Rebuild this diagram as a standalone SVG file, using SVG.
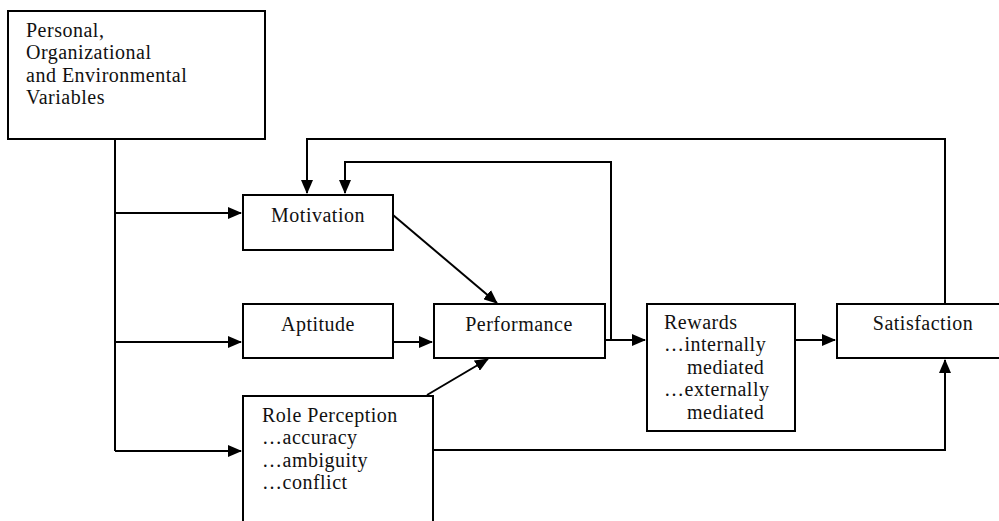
<svg xmlns="http://www.w3.org/2000/svg" width="999" height="521" viewBox="0 0 999 521">
<defs>
<marker id="ah" markerWidth="14" markerHeight="12" refX="13" refY="6" orient="auto" markerUnits="userSpaceOnUse">
<path d="M0,0 L14,6 L0,12 Z" fill="#000"/>
</marker>
<style>
.box{fill:#fff;stroke:#000;stroke-width:2}
.t{font-family:'Liberation Serif','DejaVu Serif','Times New Roman',serif;font-size:20px;letter-spacing:0.5px;fill:#111}
.c{text-anchor:middle}
.ln{fill:none;stroke:#000;stroke-width:2}
</style>
</defs>
<rect width="999" height="521" fill="#fff"/>
<g id="connectors">
<path class="ln" d="M115,140 V451"/>
<path class="ln" d="M115,213 H241" marker-end="url(#ah)"/>
<path class="ln" d="M115,342 H241" marker-end="url(#ah)"/>
<path class="ln" d="M115,451 H241" marker-end="url(#ah)"/>
<path class="ln" d="M393,342 H432" marker-end="url(#ah)"/>
<path class="ln" d="M393,215 L497,303" marker-end="url(#ah)"/>
<path class="ln" d="M427,395 L488,359" marker-end="url(#ah)"/>
<path class="ln" d="M605,340 H645" marker-end="url(#ah)"/>
<path class="ln" d="M611,340 V162 H345 V193" marker-end="url(#ah)"/>
<path class="ln" d="M945,303 V139 H307 V193" marker-end="url(#ah)"/>
<path class="ln" d="M795,340 H835" marker-end="url(#ah)"/>
<path class="ln" d="M433,450 H945 V360" marker-end="url(#ah)"/>
</g>
<g id="variables" class="t">
<rect class="box" x="8" y="11" width="257" height="128"/>
<text x="26" y="37">Personal,</text>
<text x="26" y="59.3">Organizational</text>
<text x="26" y="81.6">and Environmental</text>
<text x="26" y="103.9">Variables</text>
</g>
<g id="motivation" class="t">
<rect class="box" x="243" y="195" width="150" height="55"/>
<text class="c" x="318" y="222">Motivation</text>
</g>
<g id="aptitude" class="t">
<rect class="box" x="243" y="304" width="150" height="54"/>
<text class="c" x="318" y="331">Aptitude</text>
</g>
<g id="role-perception" class="t">
<rect class="box" x="243" y="396" width="190" height="140"/>
<text x="262" y="422">Role Perception</text>
<text x="262" y="444.3">…accuracy</text>
<text x="262" y="466.6">…ambiguity</text>
<text x="262" y="488.9">…conflict</text>
</g>
<g id="performance" class="t">
<rect class="box" x="434" y="304" width="171" height="54"/>
<text class="c" x="519" y="331">Performance</text>
</g>
<g id="rewards" class="t">
<rect class="box" x="647" y="304" width="148" height="127"/>
<text x="664" y="329">Rewards</text>
<text x="664" y="351.4">…internally</text>
<text x="687" y="373.8">mediated</text>
<text x="664" y="396.2">…externally</text>
<text x="687" y="418.6">mediated</text>
</g>
<g id="satisfaction" class="t">
<rect class="box" x="837" y="304" width="180" height="54"/>
<text class="c" x="923" y="330">Satisfaction</text>
</g>
</svg>
